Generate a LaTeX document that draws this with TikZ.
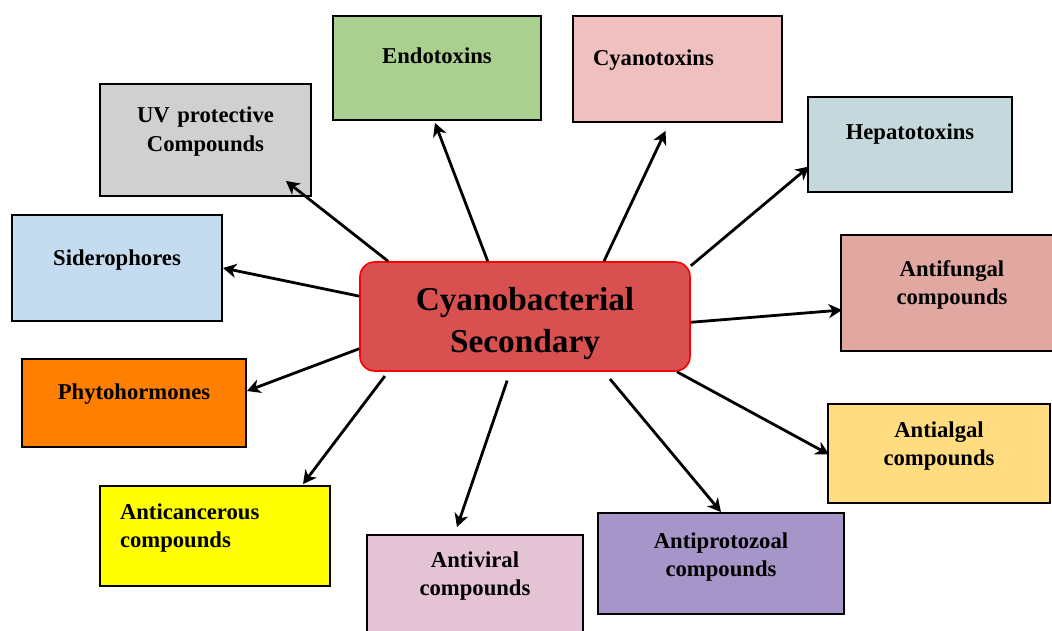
\documentclass[tikz,border=0pt]{standalone}
\usepackage{fontspec}
\setmainfont{Liberation Serif}
\usetikzlibrary{arrows.meta}

\definecolor{endoGreen}{RGB}{169,208,142}
\definecolor{cyanoPink}{RGB}{240,192,192}
\definecolor{uvGrey}{RGB}{208,208,208}
\definecolor{hepatoBlue}{RGB}{197,217,220}
\definecolor{sideroBlue}{RGB}{197,220,240}
\definecolor{fungalRose}{RGB}{224,168,160}
\definecolor{phytoOrange}{RGB}{255,128,0}
\definecolor{algalYellow}{RGB}{255,220,128}
\definecolor{cancerYellow}{RGB}{255,255,0}
\definecolor{viralPink}{RGB}{228,196,212}
\definecolor{protoViolet}{RGB}{165,149,200}
\definecolor{hubRed}{RGB}{217,80,80}

\tikzset{every picture/.style={line width=0.75pt}}
\tikzset{
	box/.style={draw=black, line width=1.4pt, inner xsep=0pt, inner ysep=0pt, align=center,
		font=\fontsize{17}{21}\selectfont\bfseries},
	hub/.style={draw=red, fill=hubRed, line width=1.2pt, rounded corners=11pt,
		text width=247.5pt, inner sep=0pt, text height=36pt, text depth=45.75pt, align=center,
		font=\fontsize{25}{31.5}\selectfont\bfseries},
	arr/.style={-{Stealth[length=10pt,width=10.5pt,inset=3pt]}, line width=2.1pt}
}

\begin{document}
\begin{tikzpicture}[x=0.75pt,y=0.75pt,yscale=-1,xscale=1]
	\useasboundingbox (0,0) rectangle (1052,631);

	%Shape: Rounded Rect [id:hub]
	\node[hub] (hub) at (525,316.5) {Cyanobacterial\\Secondary};

	%Shape: Rectangle [id:endo]
	\node[box, fill=endoGreen, text width=156pt, text height=36pt, text depth=42pt] (endo) at (437,68) {Endotoxins};
	%Shape: Rectangle [id:cyano]
	\node[box, fill=cyanoPink, align=left, inner xsep=15pt, text width=126.75pt, text height=37.5pt, text depth=42pt] (cyano) at (677.5,69) {Cyanotoxins};
	%Shape: Rectangle [id:uv]
	\node[box, fill=uvGrey, text width=158.25pt, text height=29.25pt, text depth=54.75pt] (uv) at (205.5,140) {UV protective\\Compounds};
	%Shape: Rectangle [id:hepato]
	\node[box, fill=hepatoBlue, text width=153pt, text height=32.25pt, text depth=39pt] (hepato) at (910,144.5) {Hepatotoxins};
	%Shape: Rectangle [id:sidero]
	\node[box, fill=sideroBlue, text width=157.5pt, text height=37.5pt, text depth=42pt] (sidero) at (117,268) {Siderophores};
	%Shape: Rectangle [id:fungal]
	\node[box, fill=fungalRose, text width=166.5pt, text height=30.75pt, text depth=56.25pt] (fungal) at (952,293) {Antifungal\\compounds};
	%Shape: Rectangle [id:phyto]
	\node[box, fill=phytoOrange, text width=168pt, text height=30pt, text depth=36pt] (phyto) at (134,403) {Phytohormones};
	%Shape: Rectangle [id:algal]
	\node[box, fill=algalYellow, text width=166.5pt, text height=24.75pt, text depth=49.5pt] (algal) at (939,453.5) {Antialgal\\compounds};
	%Shape: Rectangle [id:cancer]
	\node[box, fill=cancerYellow, align=left, inner xsep=15pt, text width=142.5pt, text height=24.75pt, text depth=50.25pt] (cancer) at (215,536) {Anticancerous\\compounds};
	%Shape: Rectangle [id:viral]
	\node[box, fill=viralPink, text width=162pt, text height=24pt, text depth=54.75pt] (viral) at (475,587.5) {Antiviral\\compounds};
	%Shape: Rectangle [id:proto]
	\node[box, fill=protoViolet, text width=184.5pt, text height=26.25pt, text depth=49.5pt] (proto) at (721,563.5) {Antiprotozoal\\compounds};

	%Straight Lines with arrows
	\draw[arr] (hub.158) -- ([shift={(-26,-16)}]uv.south east);
	\draw[arr] (hub.124) -- ([shift={(-2,2)}]endo.south);
	\draw[arr] (hub.35) -- ([shift={(-12,8)}]cyano.south);
	\draw[arr] (hub.17) -- ([shift={(2,22)}]hepato.west);
	\draw[arr] (hub.173) -- (sidero.east);
	\draw[arr] (hub.-2) -- ([shift={(2,17)}]fungal.west);
	\draw[arr] (hub.191) -- ([shift={(0,-12)}]phyto.east);
	\draw[arr, shorten <=4pt] (hub.202) -- ([shift={(88,-1)}]cancer.north);
	\draw[arr, shorten <=7pt] (hub.255) -- ([shift={(-18,-7)}]viral.north);
	\draw[arr, shorten <=7pt] (hub.-35) -- (proto.north);
	\draw[arr] (hub.-20) -- ([shift={(2,1)}]algal.west);

\end{tikzpicture}
\end{document}
